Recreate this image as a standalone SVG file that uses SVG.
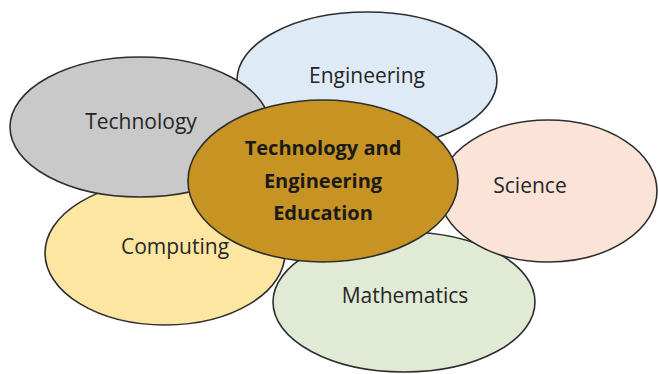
<svg xmlns="http://www.w3.org/2000/svg" width="658" height="374" viewBox="0 0 658 374">
<style>
.e{stroke:#2e2e2e;stroke-width:1.6}
.t{font-family:"Open Sans","Liberation Sans",sans-serif;font-size:21px;fill:#262626;text-anchor:middle}
.b{font-family:"Open Sans","Liberation Sans",sans-serif;font-size:20px;font-weight:bold;fill:#1a1a1a;text-anchor:middle}
</style>
<rect width="658" height="374" fill="#ffffff"/>
<g id="connectors"></g>
<g id="engineering"><ellipse class="e" cx="367" cy="80" rx="130" ry="68" fill="#deebf6"/><text class="t" x="367" y="83">Engineering</text></g>
<g id="computing"><ellipse class="e" cx="165" cy="253" rx="120" ry="72" fill="#fde6a2"/><text class="t" x="175" y="254">Computing</text></g>
<g id="mathematics"><ellipse class="e" cx="404" cy="302" rx="131" ry="70" fill="#e0ead5"/><text class="t" x="405" y="303">Mathematics</text></g>
<g id="science"><ellipse class="e" cx="548" cy="191" rx="109" ry="71" fill="#fbe3d7"/><text class="t" x="530" y="193">Science</text></g>
<g id="technology"><ellipse class="e" cx="140" cy="127" rx="130" ry="70" fill="#c9c9c9"/><text class="t" x="141" y="129">Technology</text></g>
<g id="center"><ellipse class="e" cx="323" cy="181" rx="135" ry="81" fill="#c79322"/><text class="b" x="323" y="155">Technology and</text><text class="b" x="323" y="188">Engineering</text><text class="b" x="323" y="220">Education</text></g>
</svg>
